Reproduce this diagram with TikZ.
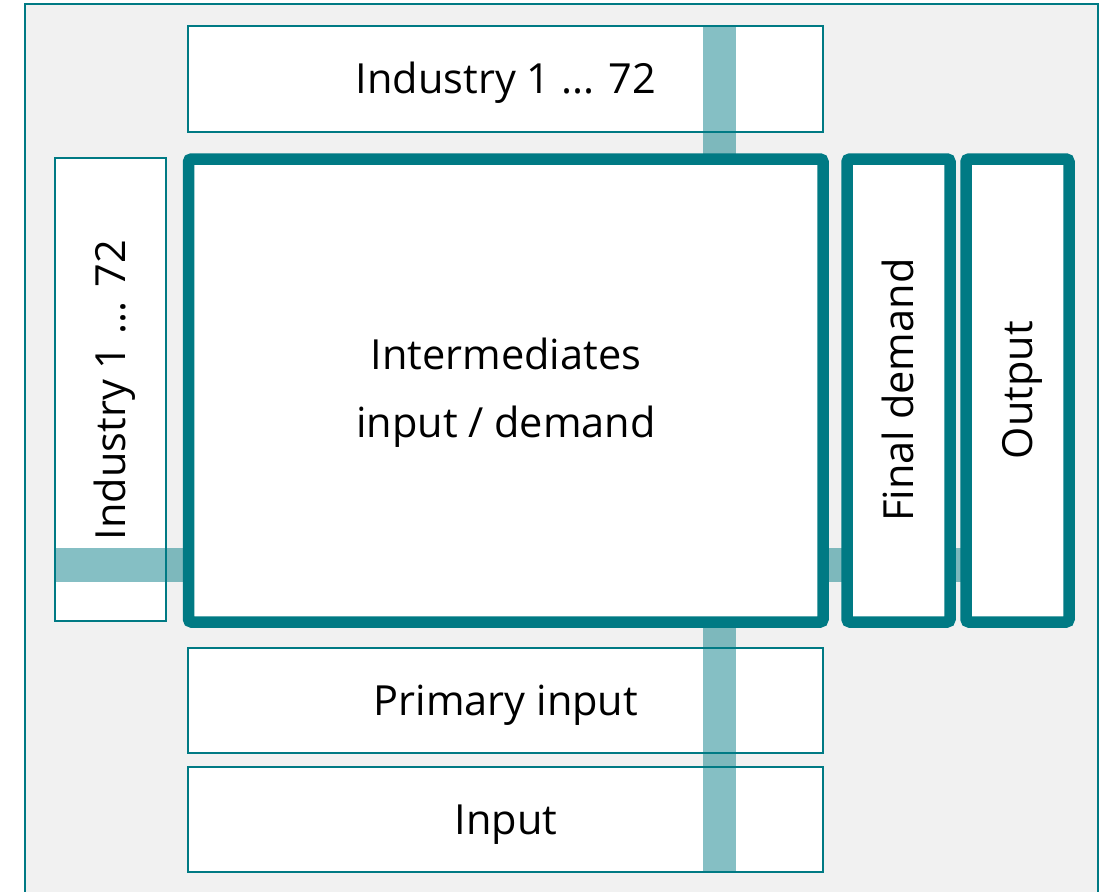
\documentclass[tikz,border=0pt]{standalone}
\usepackage{fontspec}
\setmainfont{Open Sans}
\definecolor{teal}{RGB}{0,122,132}
\definecolor{bggray}{RGB}{241,241,241}
\begin{document}
\begin{tikzpicture}[x=1pt,y=-1pt,
  thinbox/.style={draw=teal,line width=1.5pt,fill=white},
  thickbox/.style={draw=teal,line width=11.5pt,fill=white,rounded corners=3pt},
  band/.style={fill=teal,fill opacity=0.48},
  lbl/.style={font=\fontsize{41.5}{68}\selectfont,align=center,text=black,inner sep=0pt,anchor=base}]
\useasboundingbox (0,0) rectangle (1107,891);
\clip (0,0) rectangle (1107,891);
% background panel
\draw[draw=teal,line width=1.5pt,fill=bggray] (25,4) rectangle (1098,900);
% thin boxes
\draw[thinbox] (188,26) rectangle (823,132);
\draw[thinbox] (55,158) rectangle (166,621);
\draw[thinbox] (188,648) rectangle (823,753);
\draw[thinbox] (188,767) rectangle (823,872);
% bands
\fill[band] (703,26) rectangle (736,872);
\fill[band] (55,548) rectangle (1069,582);
% thick boxes
\draw[thickbox] (188.5,159) rectangle (823,622);
\draw[thickbox] (847,159) rectangle (950,622);
\draw[thickbox] (966,159) rectangle (1069,622);
% labels
\node[lbl] (ind) at (506,93) {Industry 1 ... 72};
\node[lbl,rotate=90] (indl) at (125,390) {Industry 1 ... 72};
\node[lbl] (mid1) at (506,369) {Intermediates};
\node[lbl] (mid2) at (506,437) {input / demand};
\node[lbl,rotate=90] (fd) at (913,390) {Final demand};
\node[lbl,rotate=90] (out) at (1032,390) {Output};
\node[lbl] (pi) at (506,715) {Primary input};
\node[lbl] (in) at (506,834) {Input};
\end{tikzpicture}
\end{document}
